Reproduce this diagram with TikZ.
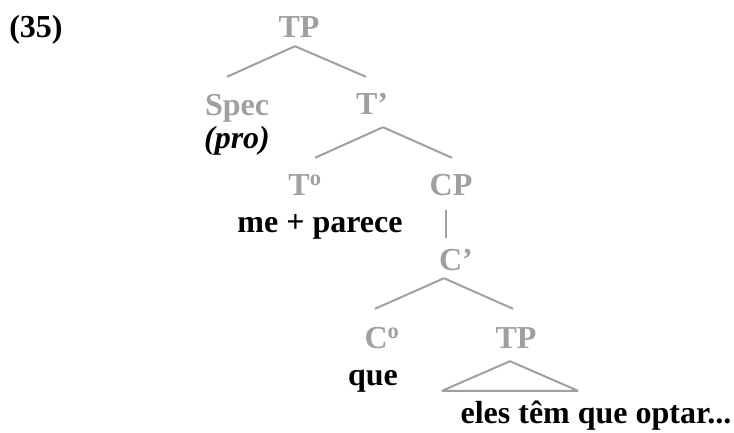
\documentclass[tikz,border=0pt]{standalone}
\usepackage{fontspec}
\setmainfont{Liberation Serif}
\usepackage{tikz}
\usetikzlibrary{positioning}
\usepackage{xcolor}
\definecolor{treegray}{RGB}{160,160,160}

\begin{document}
\begin{tikzpicture}[
        x=1pt, y=-1pt,
        line join=bevel,
        word/.style={anchor=base, inner sep=0pt, text height=22pt, text depth=0pt, font=\fontsize{32}{36}\selectfont\bfseries},
        catnode/.style={word, text=treegray},
        branch/.style={draw=treegray, line width=2pt}
        ]
        \useasboundingbox (0,0) rectangle (734,432);

        %% Nodes
        \node[word] (ex) at (36,37) {(35)};
        \node[catnode] (tp) at (299,37) {TP};
        \node[catnode] (spec) at (237,115) {Spec};
        \node[catnode] (tbar) at (372,114) {T’};
        \node[word] (pro) at (237,148) {\textit{(pro)}};
        \node[catnode] (thead) at (305,195) {T\textsuperscript{o}};
        \node[catnode] (cp) at (451,195) {CP};
        \node[word] (parece) at (320,232) {me + parece};
        \node[catnode] (cbar) at (456,270) {C’};
        \node[catnode] (chead) at (382,348) {C\textsuperscript{o}};
        \node[catnode] (tplow) at (516,348) {TP};
        \node[word] (que) at (373,385) {que};
        \node[word] (eles) at (596,423) {eles têm que optar...};

        %% Branches
        \draw[branch] ([shift={(-4pt,-9pt)}]tp.south) -- ([shift={(-10pt,16pt)}]spec.north);
        \draw[branch] ([shift={(-4pt,-9pt)}]tp.south) -- ([shift={(-6pt,15pt)}]tbar.north);
        \draw[branch] ([shift={(11pt,-13pt)}]tbar.south) -- ([shift={(10pt,15pt)}]thead.north);
        \draw[branch] ([shift={(11pt,-13pt)}]tbar.south) -- ([shift={(1pt,15pt)}]cp.north);
        \draw[branch] ([shift={(-5pt,-15pt)}]cp.south) -- ([shift={(-10pt,10pt)}]cbar.north);
        \draw[branch] ([shift={(-12pt,-8pt)}]cbar.south) -- ([shift={(-7pt,17pt)}]chead.north);
        \draw[branch] ([shift={(-12pt,-8pt)}]cbar.south) -- ([shift={(-3pt,17pt)}]tplow.north);
        % triangle over the embedded clause
        \draw[branch] ([shift={(-6pt,-13pt)}]tplow.south) -- ([shift={(-154pt,10pt)}]eles.north)
                -- ([shift={(-18pt,10pt)}]eles.north) -- cycle;
\end{tikzpicture}
\end{document}
